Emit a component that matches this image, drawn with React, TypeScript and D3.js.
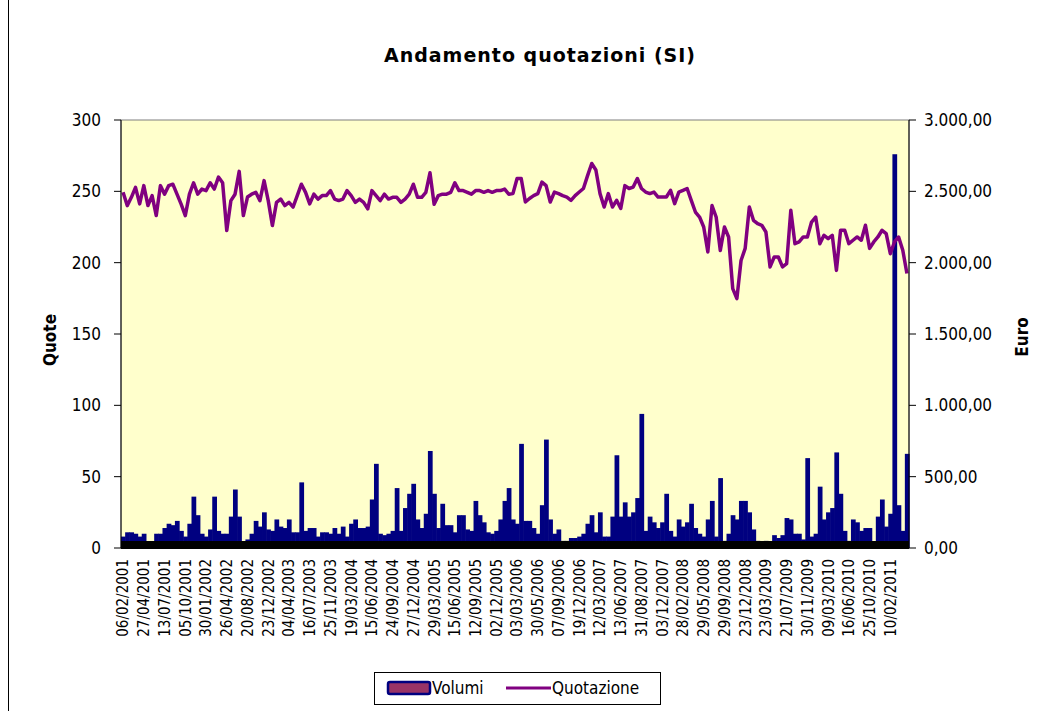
import React from "react";
import * as d3 from "d3";

const tickLabels = [
  "06/02/2001","27/04/2001","13/07/2001","05/10/2001","30/01/2002","26/04/2002","20/08/2002","23/12/2002",
  "04/04/2003","16/07/2003","25/11/2003","19/03/2004","15/06/2004","24/09/2004","27/12/2004","29/03/2005",
  "15/06/2005","12/09/2005","02/12/2005","03/03/2006","30/05/2006","07/09/2006","19/12/2006","12/03/2007",
  "13/06/2007","31/08/2007","03/12/2007","28/02/2008","29/05/2008","29/09/2008","23/12/2008","23/03/2009",
  "21/07/2009","30/11/2009","09/03/2010","16/06/2010","25/10/2010","10/02/2011",
];

const volumi = [
  8,11,11,10,8,10,3,2,10,10, 14,17,16,19,12,8,17,36,23,10,
  8,13,36,12,10,10,22,41,22,3, 6,10,19,15,25,13,12,20,15,14,
  20,11,11,46,12,14,14,8,11,11, 10,14,10,15,8,17,20,14,14,15,
  34,59,10,9,10,12,42,12,28,38, 45,20,14,24,68,38,14,31,16,16,
  11,23,23,13,12,33,23,18,11,10, 12,20,33,42,20,17,73,19,19,14,
  10,30,76,20,10,13,5,5,7,7, 8,10,17,23,11,25,8,8,22,65,
  22,32,22,25,35,94,12,22,18,14, 18,38,12,8,20,15,18,31,14,10,
  8,20,33,8,49,5,10,23,20,33, 33,25,13,5,3,5,3,9,7,9,
  21,20,10,10,6,63,8,10,43,20, 25,28,67,38,12,5,20,18,12,14,
  14,3,22,34,15,24,276,30,12,66,
];

const quotazione = [
  2493,2400,2458,2528,2412,2540,2400,2470,2330,2540, 2480,2540,2550,2480,2410,2330,2480,2560,2480,2516,
  2505,2560,2516,2600,2560,2225,2435,2480,2640,2330, 2460,2480,2493,2435,2575,2435,2260,2423,2446,2400,
  2423,2390,2470,2550,2493,2412,2480,2446,2470,2470, 2505,2446,2435,2446,2505,2470,2423,2446,2423,2377,
  2505,2470,2435,2480,2446,2458,2458,2423,2446,2480, 2550,2458,2458,2493,2630,2410,2470,2480,2480,2493,
  2560,2505,2505,2493,2480,2505,2505,2493,2505,2493, 2505,2505,2516,2480,2484,2590,2590,2425,2450,2470,
  2484,2565,2540,2425,2495,2484,2470,2460,2437,2470, 2495,2520,2610,2695,2650,2484,2390,2484,2390,2437,
  2380,2540,2520,2530,2590,2520,2495,2484,2495,2460, 2460,2460,2507,2414,2495,2507,2520,2437,2355,2320,
  2250,2075,2400,2320,2085,2250,2180,1818,1748,2015, 2100,2390,2297,2273,2262,2215,1970,2040,2040,1970,
  1993,2367,2133,2145,2180,2180,2285,2320,2133,2192, 2168,2192,1946,2227,2227,2133,2157,2180,2157,2262,
  2100,2145,2180,2227,2203,2063,2145,2180,2087,1924,
];

const leftTicks = [0, 50, 100, 150, 200, 250, 300];
const rightTicks = [0, 500, 1000, 1500, 2000, 2500, 3000];
const labelStep = 5;

const FONT = "'DejaVu Sans Condensed', 'DejaVu Sans', sans-serif";
const TITLE_FONT = "'DejaVu Sans', sans-serif";

export default function App() {
  const W = 1052, H = 711;
  const left = 121, right = 909, top = 120, bottom = 548;
  const idx = d3.range(volumi.length);
  const x = d3.scaleBand<number>().domain(idx).range([left, right]).padding(0);
  const bw = x.bandwidth();
  const yL = d3.scaleLinear().domain([0, 300]).range([bottom, top]);
  const yR = d3.scaleLinear().domain([0, 3000]).range([bottom, top]);
  const it = d3.formatLocale({ decimal: ",", thousands: ".", grouping: [3], currency: ["", "€"] });
  const fmt = it.format(",.2f");
  const line = d3
    .line<number>()
    .x((d, i) => (x(i) as number) + bw / 2)
    .y((d) => yR(d));

  return (
    <svg width={W} height={H} style={{ position: "absolute", left: 0, top: 0, background: "#fff" }}>
      <line x1={8.5} x2={8.5} y1={0} y2={H} stroke="#000" strokeWidth={1} />
      <text x={540} y={62} textAnchor="middle" fontFamily={TITLE_FONT} fontWeight="bold" fontSize={19} letterSpacing={1}>
        Andamento quotazioni (SI)
      </text>
      <rect x={left} y={top} width={right - left} height={bottom - top} fill="#FFFFCC" stroke="#808080" strokeWidth={1} />
      {volumi.map((v, i) => (
        <rect key={i} x={x(i) as number} y={yL(v)} width={bw + 0.6} height={bottom - yL(v)} fill="#000080" />
      ))}
      <rect x={left} y={541} width={right - left} height={8} fill="#000" />
      <path d={line(quotazione) || ""} fill="none" stroke="#800080" strokeWidth={3.5} strokeLinejoin="round" />
      {/* left axis */}
      <line x1={left} x2={left} y1={top} y2={bottom} stroke="#000" />
      {leftTicks.map((t) => (
        <g key={t}>
          <line x1={left - 7} x2={left} y1={yL(t)} y2={yL(t)} stroke="#000" />
          <text x={101} y={yL(t)} dy="0.36em" textAnchor="end" fontFamily={FONT} fontSize={17}>
            {t}
          </text>
        </g>
      ))}
      {/* right axis */}
      <line x1={right} x2={right} y1={top} y2={bottom} stroke="#000" />
      {rightTicks.map((t) => (
        <g key={t}>
          <line x1={right} x2={right + 7} y1={yR(t)} y2={yR(t)} stroke="#000" />
          <text x={924} y={yR(t)} dy="0.36em" textAnchor="start" fontFamily={FONT} fontSize={17}>
            {fmt(t)}
          </text>
        </g>
      ))}
      <text transform="translate(56,340) rotate(-90)" textAnchor="middle" fontFamily={FONT} fontWeight="bold" fontSize={17}>
        Quote
      </text>
      <text transform="translate(1028,337) rotate(-90)" textAnchor="middle" fontFamily={FONT} fontWeight="bold" fontSize={17}>
        Euro
      </text>
      {/* x labels */}
      {tickLabels.map((lab, k) => {
        const cx = (x(k * labelStep) as number) + bw / 2;
        return (
          <text key={lab} transform={`translate(${cx},559) rotate(-90)`} dy="0.36em" textAnchor="end" fontFamily={FONT} fontSize={15}>
            {lab}
          </text>
        );
      })}
      {/* legend */}
      <rect x={374.5} y={672.5} width={286} height={32} fill="#fff" stroke="#000" strokeWidth={1} />
      <rect x={388} y={682} width={42} height={12} rx={2} fill="#993366" stroke="#000080" strokeWidth={2.5} />
      <text x={432} y={688} dy="0.36em" fontFamily={FONT} fontSize={17}>Volumi</text>
      <line x1={506} x2={551} y1={688} y2={688} stroke="#800080" strokeWidth={3} />
      <text x={552} y={688} dy="0.36em" fontFamily={FONT} fontSize={17}>Quotazione</text>
    </svg>
  );
}
